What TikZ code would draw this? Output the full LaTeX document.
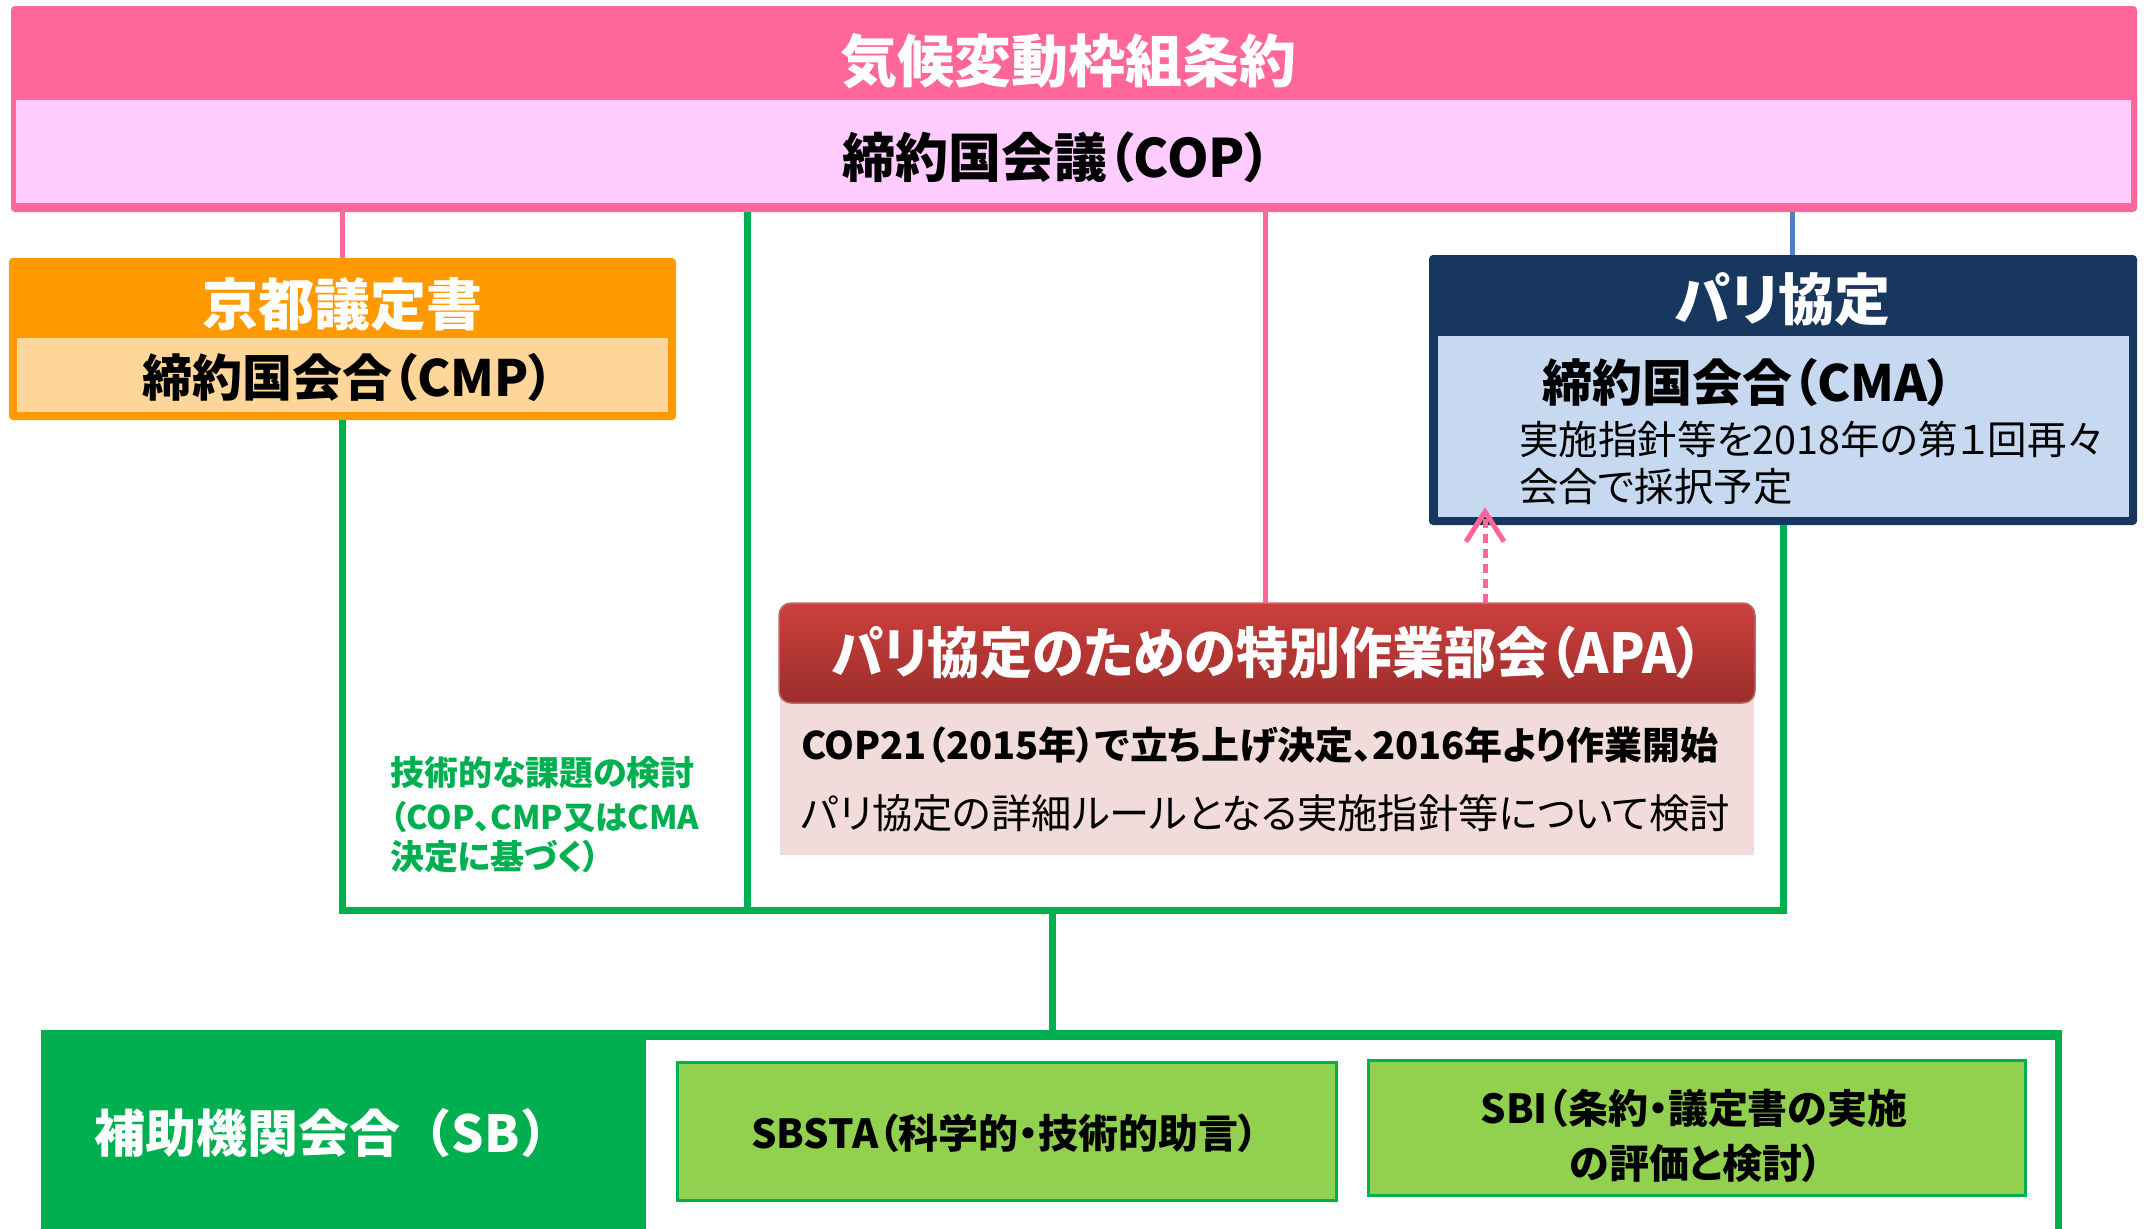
\documentclass[tikz,border=0pt]{standalone}
\usepackage{fontspec}
\usepackage{graphicx}
\setmainfont{Noto Sans CJK JP}[RawFeature=+palt]
\newfontfamily\nopalt{Noto Sans CJK JP}
\usetikzlibrary{arrows.meta,calc}
\definecolor{pk}{HTML}{FF6699}
\definecolor{lpk}{HTML}{FFCCFF}
\definecolor{org}{HTML}{FF9900}
\definecolor{lorg}{HTML}{FFD699}
\definecolor{navy}{HTML}{17375E}
\definecolor{lblue}{HTML}{C6D9F1}
\definecolor{cblue}{HTML}{4F81BD}
\definecolor{grn}{HTML}{00B050}
\definecolor{lgrn}{HTML}{92D050}
\definecolor{apatop}{HTML}{CD403D}
\definecolor{apabot}{HTML}{9B2D2B}
\definecolor{apabody}{HTML}{F2DCDB}
\newcommand\fsz[1]{\fontsize{#1}{#1}\selectfont}
\begin{document}
\begin{tikzpicture}[x=1pt,y=-1pt,
  every node/.style={inner sep=0pt,outer sep=0pt},
  panel/.style n args={2}{rectangle,minimum width=#1,minimum height=#2},
  pkline/.style={draw=pk,line width=5},
  gline/.style={draw=grn,line width=7,line join=miter},
  bline/.style={draw=cblue,line width=5},
  wtitle/.style={text=white,font=\bfseries\fsz{#1}},
  btext/.style={text=black,font=\bfseries\fsz{#1}},
  rtext/.style={text=black,font=\fsz{#1}},
  gtext/.style={text=grn,font=\bfseries\fsz{#1},anchor=west},
  subbox/.style={fill=lgrn,draw=grn,line width=3}
]
\useasboundingbox (0,0) rectangle (2145,1229);
\fill[white] (0,0) rectangle (2145,1229);

% UNFCCC
\node[panel={2126}{206},fill=pk,rounded corners=4] (unfccc) at (1074,109) {};
\node[panel={2115}{103},fill=lpk] (cop) at (1073.5,151.5) {};
\node[wtitle=57] (unfcccT) at (1068,61) {気候変動枠組条約};
\node[btext=53] (copT) at (1057,157) {締約国会議（COP）};

% Kyoto
\node[panel={667}{162},fill=org,rounded corners=4] (kyoto) at (342.5,339) {};
\node[panel={651}{74},fill=lorg] (cmp) at (342.5,375) {};
\node[wtitle=56] (kyotoT) at (342,304) {京都議定書};
\node[btext=50] (cmpT) at (348,377) {締約国会合（CMP）};

% Paris
\node[panel={708}{270},fill=navy,rounded corners=4] (paris) at (1783,390) {};
\node[panel={691}{181},fill=lblue] (cma) at (1783.5,426.5) {};
\node[wtitle=56] (parisT) at (1783,299) {パリ協定};
\node[btext=50,anchor=west] (cmaT) at (1542,382) {締約国会合（CMA）};
\node[rtext=39.5,anchor=west] (cmaD1) at (1519,439) {実施指針等を2018年の第１回再々};
\node[rtext=39.5,anchor=west] (cmaD2) at (1519,487) {会合で採択予定};

% APA
\node[panel={974}{160},fill=apabody] (apab) at (1267,775) {};
\node[panel={976}{100},top color=apatop,bottom color=apabot,draw=apabot!70!white,line width=1.5,rounded corners=12] (apah) at (1267,653) {};
\node[wtitle=55] (apaT) at (1267,653) {\scalebox{0.947}[1]{パリ協定のための特別作業部会（APA）}};
\node[btext=38,anchor=west] (apaL1) at (801,745) {COP21（2015年）で立ち上げ決定、2016年より作業開始};
\node[rtext=40.3,anchor=west] (apaL2) at (801,813) {パリ協定の詳細ルールとなる実施指針等について検討};

% green note
\node[gtext=34] (g1) at (390,773) {技術的な課題の検討};
\node[gtext=32.5] (g2) at (390,817) {（COP、CMP又はCMA};
\node[gtext=34] (g3) at (390,857) {決定に基づく）};

% SB
\node[panel={2021}{230},fill=grn] (sb) at (1051.5,1145) {};
\node[panel={1409}{230},fill=white] (sbin) at (1350.5,1155) {};
\node[text=white,font=\nopalt\bfseries\fsz{51}] (sbT) at (333,1133) {補助機関会合（SB）};
\node[panel={659}{138},subbox] (sbsta) at (1006.5,1131) {};
\node[btext=40] (sbstaT) at (1005,1133) {SBSTA（科学的・技術的助言）};
\node[panel={657}{135},subbox] (sbi) at (1696.5,1127.5) {};
\node[btext=40] (sbiT1) at (1694,1108) {SBI（条約・議定書の実施};
\node[btext=40] (sbiT2) at (1696,1163) {の評価と検討）};

% connectors
\coordinate (bx) at (1792,0);
\coordinate (gx) at (747,910);
\coordinate (busL) at (342.5,910);
\coordinate (busR) at (1783,910);
\coordinate (bus) at (1052,910);
\coordinate (ax) at (1485,507);
\draw[pkline] (unfccc.south -| kyoto.north) -- (kyoto.north);
\draw[pkline] (unfccc.south -| 1265,0) -- (apah.north -| 1265,0);
\draw[bline] (unfccc.south -| bx) -- (paris.north -| bx);
\draw[gline] (kyoto.south) -- (busL) -- (busR) -- (paris.south);
\draw[gline] (unfccc.south -| gx) -- (gx);
\draw[gline] (bus) -- (sb.north -| bus);
\draw[draw=pk,line width=5,dash pattern=on 9 off 6,-{Straight Barb[length=30,width=38,line width=5]}] (apah.north -| ax) -- (ax);
\end{tikzpicture}
\end{document}
